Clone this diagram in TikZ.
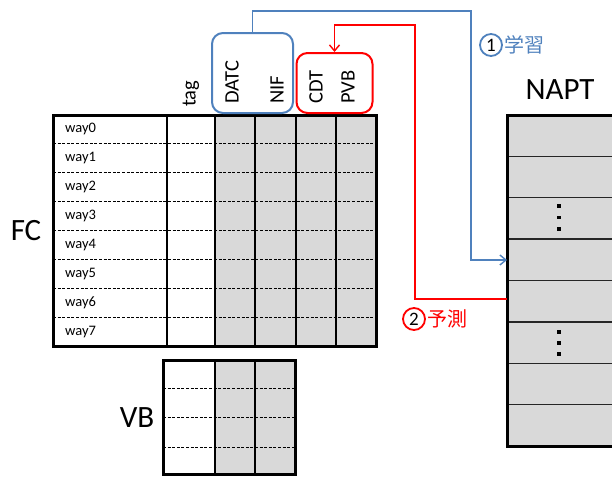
\documentclass[tikz,border=0pt]{standalone}
\usepackage{fontspec}
\setmainfont{Carlito}
\newfontfamily\jpfont{Noto Sans CJK JP}
\usetikzlibrary{arrows.meta}
\definecolor{cellgray}{HTML}{D9D9D9}
\definecolor{learnblue}{HTML}{4F81BD}
\definecolor{predred}{HTML}{FF0000}
\tikzset{
  outer/.style={draw=black, line width=3pt},
  colline/.style={draw=black, line width=1.1pt},
  rowline/.style={draw=black, line width=0.9pt, dash pattern=on 3pt off 1.6pt},
  napline/.style={draw=black!85, line width=1.3pt},
  wayname/.style={font=\fontsize{14.5}{14.5}\selectfont, anchor=west, inner sep=0pt},
  colhead/.style={font=\fontsize{20.5}{20.5}\selectfont, rotate=90, anchor=west, inner sep=0pt},
  biglabel/.style={font=\fontsize{31}{31}\selectfont, inner sep=0pt},
  groupbox/.style={draw, line width=2pt, rounded corners=11pt, fill=none},
  flow/.style={line width=1.4pt, -{Straight Barb[length=6pt,width=10pt]}},
  stepnum/.style={circle, line width=1.8pt, inner sep=0pt, minimum size=22pt,
    font=\fontsize{19}{19}\selectfont, text=black},
  steptext/.style={font=\jpfont\fontsize{20}{20}\selectfont, anchor=west, inner sep=0pt},
  dotmark/.style={fill=black, minimum size=3.4pt, inner sep=0pt}
}
\begin{document}
\begin{tikzpicture}[x={(1pt,0)}, y={(0,-1pt)}]
\useasboundingbox (0,0) rectangle (612,477);

% ---- FC table (8 ways) ----
\fill[cellgray] (215,115) rectangle (376,346);
\foreach \k in {1,...,7} {
  \draw[rowline] (53,{115+\k*28.875}) -- (376,{115+\k*28.875});
}
\foreach \cx in {167,215,255,296,336} {
  \draw[colline] (\cx,115) -- (\cx,346);
}
\draw[outer] (53,115) rectangle (376,346);
\foreach \k in {0,...,7} {
  \node[wayname] (way\k) at (65,{129.4+\k*28.875}) {way\k};
}
\node[biglabel] (fc) at (26,231) {FC};

% ---- column headers ----
\node[colhead] (tag)  at (191,107) {tag};
\node[colhead] (datc) at (232,104) {DATC};
\node[colhead] (nif)  at (277,104) {NIF};
\node[colhead] (cdt)  at (316,104) {CDT};
\node[colhead] (pvb)  at (348,104) {PVB};
\node[groupbox, draw=learnblue, minimum width=81pt, minimum height=80pt] (bluebox) at (252.5,73) {};
\node[groupbox, draw=predred, minimum width=76pt, minimum height=60pt] (redbox) at (334.5,83) {};

% ---- VB table ----
\fill[cellgray] (215,360) rectangle (295,474);
\foreach \ry in {388,417,447} {
  \draw[rowline] (163,\ry) -- (295,\ry);
}
\foreach \cx in {215,255} {
  \draw[colline] (\cx,360) -- (\cx,474);
}
\draw[outer] (163,360) rectangle (295,474);
\node[biglabel] (vb) at (137,418) {VB};

% ---- NAPT table ----
\fill[cellgray] (507,115) rectangle (640,446);
\foreach \k in {1,...,7} {
  \draw[napline] (507,{115+\k*41.375}) -- (640,{115+\k*41.375});
}
\draw[outer] (640,115) -- (507,115) -- (507,446) -- (640,446);
\node[biglabel] (napt) at (560,90) {NAPT};
\foreach \dy in {206,217.5,229} {
  \node[dotmark] at (559,\dy) {};
}
\foreach \dy in {332,343,354} {
  \node[dotmark] at (559,\dy) {};
}

% ---- flows ----
\coordinate (learnturn) at (471,11);
\coordinate (learnin) at (507,260);
\draw[flow, learnblue] (bluebox.north) |- (learnturn) |- (learnin);

\coordinate (predout) at (507,299);
\coordinate (predturn) at (415,25);
\draw[flow, predred] (predout) -| (predturn) -| (redbox.north);

% ---- step labels ----
\node[stepnum, draw=learnblue] (step1) at (491,45) {1};
\node[steptext, text=learnblue] (learn) at (504,45) {学習};
\node[stepnum, draw=predred] (step2) at (414,319) {2};
\node[steptext, text=predred] (pred) at (427,319) {予測};
\end{tikzpicture}
\end{document}
